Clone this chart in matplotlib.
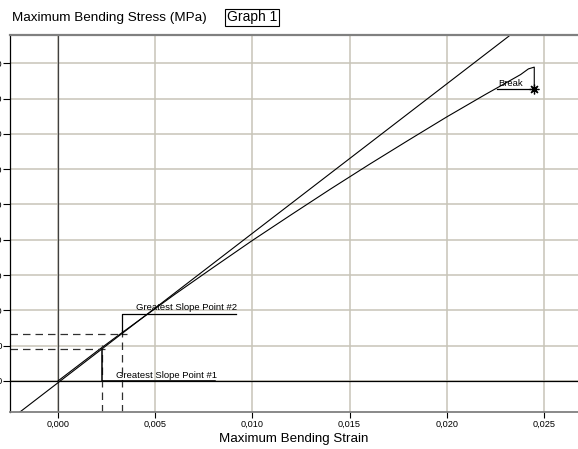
"""Flexural test: bending stress vs. bending strain with greatest-slope tangent."""

import matplotlib
matplotlib.use("Agg")
import matplotlib.pyplot as plt

plt.rcParams["font.family"] = ["Liberation Sans", "DejaVu Sans"]

# ---------------------------------------------------------------------------
# Data
# ---------------------------------------------------------------------------

strain = [0.0, 0.001, 0.002, 0.003, 0.004, 0.005, 0.006, 0.008, 0.010,
          0.012, 0.014, 0.015, 0.016, 0.018, 0.020, 0.022, 0.023,
          0.0238, 0.0242, 0.0245, 0.0245]
stress = [0.0, 4.2, 8.4, 12.5, 16.5, 20.5, 24.5, 32.2, 39.8,
          47.1, 54.3, 57.8, 61.3, 68.1, 74.8, 81.2, 84.3,
          86.8, 88.4, 88.9, 82.7]

tangent_strain = [-0.00196, 0.0232]
tangent_stress = [-8.8, 97.7]

slope_pts_strain = [0.00226, 0.00329]
slope_pts_stress = [9.06, 13.4]

break_strain = 0.0245
break_stress = 82.7

xticks = [0.0, 0.005, 0.010, 0.015, 0.020, 0.025]
xticklabels = ["0,000", "0,005", "0,010", "0,015", "0,020", "0,025"]
yticks = [0, 10, 20, 30, 40, 50, 60, 70, 80, 90]

XLIM = (-0.00247, 0.02675)
YLIM = (-8.8, 98.0)

GRID = "#c8c4b8"

# ---------------------------------------------------------------------------
# Figure
# ---------------------------------------------------------------------------

fig = plt.figure(figsize=(5.78, 4.49), dpi=100)
ax = fig.add_axes([10 / 578, 37 / 449, 1 - 10 / 578, 377 / 449])

ax.set_xlim(*XLIM)
ax.set_ylim(*YLIM)
ax.set_xticks(xticks)
ax.set_xticklabels(xticklabels, fontsize=6.6)
ax.set_yticks(yticks)
ax.set_yticklabels([str(v) for v in yticks], fontsize=6.8)
ax.tick_params(axis="y", length=5, pad=0.5, width=0.8)
ax.tick_params(axis="x", length=4, pad=1.5, width=0.8)
ax.grid(True, color=GRID, lw=1.1)
ax.set_axisbelow(True)

ax.spines["right"].set_visible(False)
ax.spines["top"].set_color("#808080")
ax.spines["top"].set_linewidth(1.6)
ax.spines["bottom"].set_color("#808080")
ax.spines["bottom"].set_linewidth(1.3)
ax.spines["left"].set_color("black")
ax.spines["left"].set_linewidth(0.9)

ax.axhline(0, color="black", lw=0.9)
ax.axvline(0, color="#404040", lw=0.9)

# tangent and test curve
ax.plot(tangent_strain, tangent_stress, color="black", lw=0.8)
ax.plot(strain, stress, color="black", lw=0.8)

# greatest-slope construction lines
dx = 0.00027
for (sx, sy) in zip(slope_pts_strain, slope_pts_stress):
    ax.plot([XLIM[0], sx + dx], [sy, sy], color="#303030", lw=0.9,
            ls=(0, (6, 4)))
    ax.plot([sx, sx], [YLIM[0], sy + 1.2], color="#303030", lw=0.9,
            ls=(0, (6, 4)))

# leader #1 (down to zero line)
ax.plot([slope_pts_strain[0], slope_pts_strain[0], 0.00808],
        [slope_pts_stress[0], 0.0, 0.0], color="black", lw=1.1)
ax.text(0.00298, 1.5, "Greatest Slope Point #1", fontsize=6.8,
        ha="left", va="center")

# leader #2 (up)
ax.plot([slope_pts_strain[1], slope_pts_strain[1], 0.00916],
        [slope_pts_stress[1], 19.0, 19.0], color="black", lw=0.9)
ax.text(0.00401, 20.8, "Greatest Slope Point #2", fontsize=6.8,
        ha="left", va="center")

# break
ax.plot([0.02258, break_strain], [break_stress, break_stress],
        color="black", lw=0.9)
ax.plot([break_strain], [break_stress], marker=(8, 2, 0), ms=7,
        color="black", mew=0.9)
ax.text(0.02263, 84.2, "Break", fontsize=6.8, ha="left", va="center")

# titles
fig.text(12 / 578, 1 - 18 / 449, "Maximum Bending Stress (MPa)",
         fontsize=9.7, ha="left", va="center")
fig.text(227 / 578, 1 - 17.5 / 449, "Graph 1", fontsize=10, ha="left",
         va="center",
         bbox=dict(boxstyle="square,pad=0.12", fc="white", ec="black", lw=0.8))
ax.set_xlabel("Maximum Bending Strain", fontsize=9.6, labelpad=3)

fig.savefig("out.png", dpi=100)
